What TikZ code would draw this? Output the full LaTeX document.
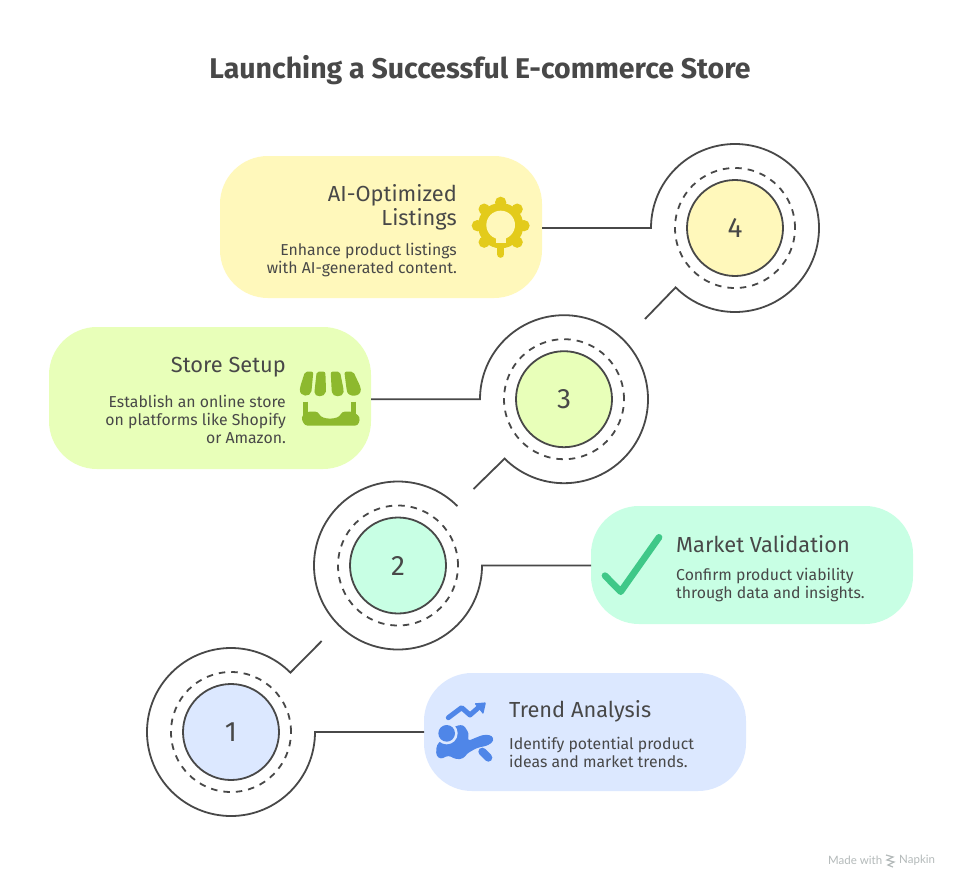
\documentclass[tikz,border=0pt]{standalone}
\usepackage{fontspec}
\setmainfont{Fira Sans}
\newfontfamily\markfont{Lato}
\definecolor{ink}{HTML}{484848}
\definecolor{blueF}{HTML}{DCE8FF}
\definecolor{mintF}{HTML}{C8FFE4}
\definecolor{limeF}{HTML}{E8FFB9}
\definecolor{yellF}{HTML}{FFF8BB}
\definecolor{blueI}{HTML}{4F86E8}
\definecolor{mintI}{HTML}{3FC888}
\definecolor{limeI}{HTML}{8DB92E}
\definecolor{yellI}{HTML}{E3CB1B}
\definecolor{grayT}{HTML}{B4BABA}
\tikzset{
 pill/.style={rectangle,rounded corners=48pt,draw=none,inner sep=0pt,outer sep=0pt,minimum width=322pt},
 hub/.style={circle,draw=ink,line width=1.8pt,minimum size=96pt,inner sep=0pt,text=ink,font=\fontsize{28}{28}\selectfont},
 ringdash/.style={circle,draw=ink,line width=1.8pt,dash pattern=on 6.5pt off 6pt,minimum size=120pt,inner sep=0pt},
 ringout/.style={circle,draw=none,minimum size=168pt,inner sep=0pt,outer sep=0pt},
 wire/.style={draw=ink,line width=1.8pt,line join=miter},
 head/.style={text=ink,font=\fontsize{21.8}{24}\selectfont,inner sep=0pt},
 body/.style={text=ink,font=\fontsize{15.8}{18}\selectfont,inner sep=0pt},
 zoomed/.style={x=0.33333pt,y=-0.33333pt},
}
\begin{document}
\begin{tikzpicture}[x=1pt,y=-1pt]
\useasboundingbox[fill=white] (0,0) rectangle (960,888);
\node[text=ink,font=\fontsize{28.5}{30}\selectfont\bfseries] (title) at (480,70) {Launching a Successful E-commerce Store};
% pills
\node[pill,fill=blueF,minimum height=118pt] (p1) at (585,732) {};
\node[pill,fill=mintF,minimum height=118pt] (p2) at (752,565) {};
\node[pill,fill=limeF,minimum height=142pt] (p3) at (210,398) {};
\node[pill,fill=yellF,minimum height=142pt] (p4) at (381,227) {};
% hubs
\foreach \i/\x/\y/\c in {1/231/732/blueF,2/398/565.5/mintF,3/564/399.2/limeF,4/735/228/yellF}{
 \node[ringout] (o\i) at (\x,\y) {};
 \node[ringdash] (d\i) at (\x,\y) {};
 \node[hub,fill=\c] (n\i) at (\x,\y) {\i};
}
% free ends of the diagonals
\coordinate (t1) at (321.7,641);
\coordinate (t3) at (473.5,489);
\coordinate (t4) at (645,319);
% connectors and open outer rings
\draw[wire] (o1.east -| p1.west) -- (o1.east) arc[start angle=0,end angle=-315,radius=84pt] -- (t1);
\draw[wire] (o2.east -| p2.west) -- (o2.east) arc[start angle=0,end angle=-315,radius=84pt];
\draw[wire] (o3.west -| p3.east) -- (o3.west) arc[start angle=180,end angle=-135,radius=84pt] -- (t3);
\draw[wire] (o4.west -| p4.east) -- (o4.west) arc[start angle=180,end angle=-135,radius=84pt] -- (t4);
% texts
\node[head,anchor=west] (h1) at (509,711) {Trend Analysis};
\node[body,anchor=west,align=left] (b1) at (509,752) {Identify potential product\\ideas and market trends.};
\node[head,anchor=west] (h2) at (676,544) {Market Validation};
\node[body,anchor=west,align=left] (b2) at (676,585) {Confirm product viability\\through data and insights.};
\node[head,anchor=east] (h3) at (286,367) {Store Setup};
\node[body,anchor=east,align=right] (b3) at (286,419) {Establish an online store\\on platforms like Shopify\\or Amazon.};
\node[head,anchor=east,align=right] (h4) at (457,207) {AI-Optimized\\Listings};
\node[body,anchor=east,align=right] (b4) at (457,260) {Enhance product listings\\with AI-generated content.};
% trend icon
\begin{scope}[shift={(420,670)},zoomed]
 \draw[blueI,line width=5pt,line cap=round,line join=round] (85,143) -- (125,113) -- (150,135) -- (182,107);
 \fill[blueI,rounded corners=1pt] (198,97) -- (163,100) -- (190,133) -- cycle;
 \fill[blueI,rounded corners=3pt] (50,225) -- (105,168) -- (130,164) -- (147,190) -- (143,213) -- (190,194) -- (216,196) -- (222,212) -- (205,226) -- (170,234) -- (142,250) -- (130,266) -- (108,268) -- (85,256) -- (62,268) -- (48,256) -- cycle;
 \draw[blueI,line width=8pt,line cap=round] (187,245) -- (205,263);
 \fill[blueF] (80,190) circle[radius=33];
 \fill[blueI] (80,190) circle[radius=25];
\end{scope}
% awning icon
\begin{scope}[shift={(290,360)},zoomed]
 \fill[limeI,rounded corners=2pt] (45,35) -- (70,35) -- (65,88) .. controls (62,112) and (28,112) .. (30,82) -- cycle;
 \fill[limeI,rounded corners=2pt] (80,35) -- (106,35) -- (108,90) .. controls (105,113) and (72,113) .. (74,90) -- cycle;
 \fill[limeI,rounded corners=2pt] (122,35) -- (150,35) -- (161,90) .. controls (160,113) and (127,113) .. (125,90) -- cycle;
 \fill[limeI,rounded corners=2pt] (163,35) -- (190,35) -- (212,82) .. controls (214,112) and (176,112) .. (170,90) -- cycle;
 \draw[limeI,line width=4.5pt] (47,125) -- (47,170);
 \draw[limeI,line width=4.5pt] (190,125) -- (190,170);
 \fill[limeI,rounded corners=3pt] (33,172) -- (50,155) -- (85,155) .. controls (95,180) and (145,180) .. (155,155) -- (190,155) -- (211,172) -- (204,197) -- (44,197) -- cycle;
\end{scope}
% market check
\begin{scope}[shift={(590,520)},zoomed]
 \draw[mintI,line width=6.7pt,line cap=round,line join=round] (45,167) -- (92,215) -- (207,52);
\end{scope}
% gear bulb icon
\begin{scope}[shift={(460,190)},zoomed]
 \fill[yellI] (122,107) circle[radius=68];
 \foreach \a in {0,45,135,180,225,270,315}{
  \fill[yellI] (122,107) ++(\a:70) circle[radius=17];
 }
 \draw[yellI,line width=7pt,line cap=round] (122,150) -- (122,193);
 \fill[yellF] (122,105) circle[radius=43];
 \fill[yellF] (107,130) rectangle (137,160);
\end{scope}
% watermark
\node[text=grayT,font=\markfont\fontsize{11.5}{12}\selectfont,inner sep=0pt,anchor=west] (m1) at (828,860.5) {Made with};
\node[text=grayT,font=\markfont\fontsize{11.5}{12}\selectfont,inner sep=0pt,anchor=west] (m2) at (899,860.5) {Napkin};
\draw[grayT,line width=1.2pt] (886,855) -- (893,857) -- (887,860) -- (894,862) -- (888,865) -- (893,867);
\end{tikzpicture}
\end{document}
